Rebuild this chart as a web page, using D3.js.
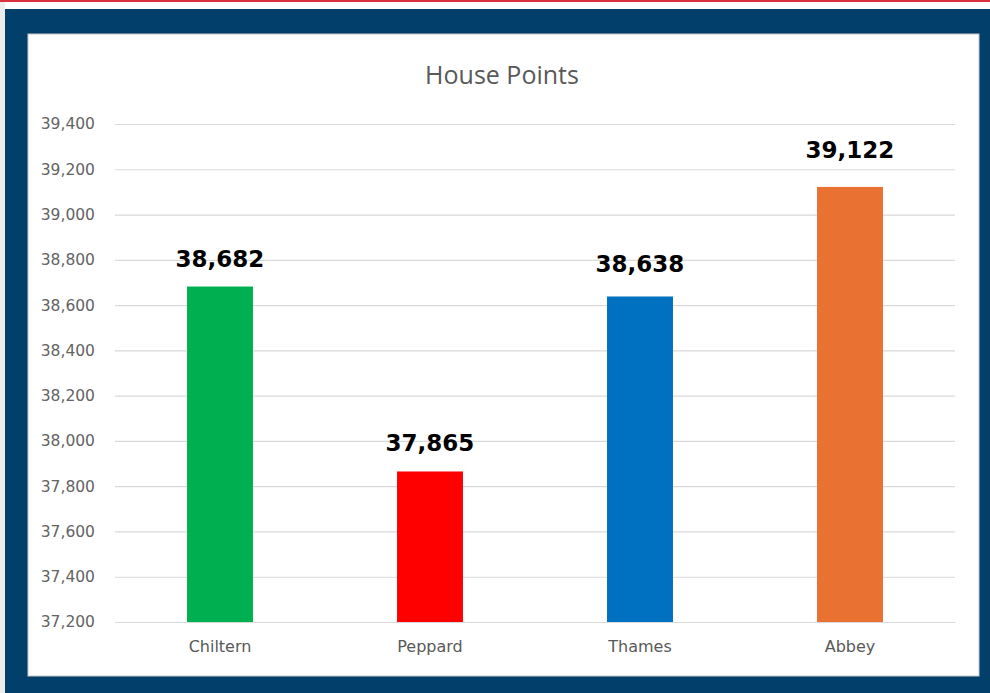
<!DOCTYPE html>
<html>
<head>
<meta charset="utf-8">
<script src="https://cdn.jsdelivr.net/npm/d3@7"></script>
<style>
  html, body { margin: 0; padding: 0; background: #f2f2f2; }
  svg { display: block; }
</style>
</head>
<body>
<script>
// chart data
const houses = ["Chiltern", "Peppard", "Thames", "Abbey"];
const points = [38682, 37865, 38638, 39122];
const houseColors = ["#00b050", "#ff0000", "#0070c0", "#e97132"];
const yTicks = [37200, 37400, 37600, 37800, 38000, 38200, 38400, 38600, 38800, 39000, 39200, 39400];

const W = 990, H = 693;
const svg = d3.select("body").append("svg").attr("width", W).attr("height", H);

// frame: red rule, dark blue border, white panel
svg.append("rect").attr("x", 0).attr("y", 0).attr("width", W).attr("height", H).attr("fill", "#ffffff");
svg.append("rect").attr("x", 0).attr("y", 0).attr("width", W).attr("height", 2).attr("fill", "#d9303e");
svg.append("rect").attr("x", 0).attr("y", 2).attr("width", 5).attr("height", H).attr("fill", "#ececec");
svg.append("rect").attr("x", 5).attr("y", 9).attr("width", W - 5).attr("height", H - 9).attr("fill", "#023f6b");
svg.append("rect").attr("x", 28).attr("y", 34).attr("width", 951).attr("height", 642)
  .attr("fill", "#ffffff").attr("stroke", "#c8c8c8").attr("stroke-width", 1);

const plot = { left: 115, right: 955, top: 124, bottom: 622 };

const x = d3.scaleBand().domain(houses).range([plot.left, plot.right]).paddingInner(0.686).paddingOuter(0.343);
const y = d3.scaleLinear().domain([37200, 39400]).range([plot.bottom, plot.top]);
const fmt = d3.format(",");

// gridlines + y labels
const yAxis = d3.axisLeft(y).tickValues(yTicks).tickFormat(fmt)
  .tickSize(-(plot.right - plot.left)).tickPadding(20);
const gy = svg.append("g").attr("transform", "translate(" + plot.left + ",0)").call(yAxis);
gy.select(".domain").remove();
gy.selectAll(".tick line").attr("stroke", "#d9d9d9").attr("stroke-width", 1.2);
gy.selectAll(".tick text")
  .attr("fill", "#636363")
  .style("font-family", "'DejaVu Sans', sans-serif")
  .style("font-size", "15.5px");

// x labels
const xAxis = d3.axisBottom(x).tickSize(0).tickPadding(19);
const gx = svg.append("g").attr("transform", "translate(0," + plot.bottom + ")").call(xAxis);
gx.select(".domain").attr("stroke", "#d9d9d9").attr("stroke-width", 1.2);
gx.selectAll(".tick text")
  .attr("fill", "#595959")
  .style("font-family", "'DejaVu Sans', sans-serif")
  .style("font-size", "16px");

// bars
svg.selectAll("rect.bar")
  .data(houses)
  .enter()
  .append("rect")
  .attr("class", "bar")
  .attr("x", (d) => x(d))
  .attr("width", x.bandwidth())
  .attr("y", (d, i) => y(points[i]))
  .attr("height", (d, i) => y(37200) - y(points[i]))
  .attr("fill", (d, i) => houseColors[i]);

// value labels (hand-placed in the original, so the gap above each bar differs)
const labelLift = [20, 20, 24, 29];
svg.selectAll("text.value")
  .data(houses)
  .enter()
  .append("text")
  .attr("class", "value")
  .attr("x", (d) => x(d) + x.bandwidth() / 2)
  .attr("y", (d, i) => y(points[i]) - labelLift[i])
  .attr("text-anchor", "middle")
  .attr("fill", "#000000")
  .style("font-family", "'DejaVu Sans', sans-serif")
  .style("font-weight", "bold")
  .style("font-size", "23px")
  .text((d, i) => fmt(points[i]));

// title
svg.append("text")
  .attr("x", 502)
  .attr("y", 84)
  .attr("text-anchor", "middle")
  .attr("fill", "#595959")
  .style("font-family", "'Open Sans', sans-serif")
  .style("font-size", "25px")
  .text("House Points");
</script>
</body>
</html>
